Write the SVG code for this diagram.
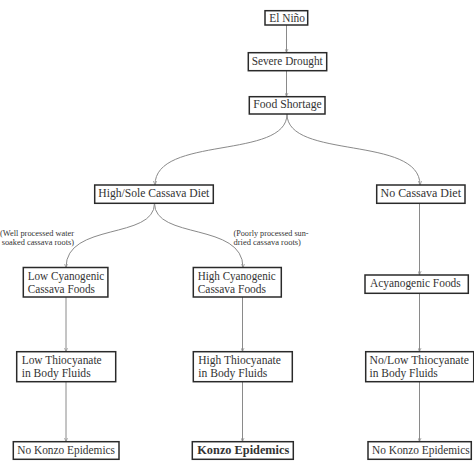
<svg xmlns="http://www.w3.org/2000/svg" width="474" height="474" viewBox="0 0 474 474">
<defs>
<style>
.box{fill:#fff;stroke:#2a2a2a;stroke-width:1.5}
.t{font-family:"Liberation Serif","DejaVu Serif",serif;font-size:11.8px;fill:#333}
.c{text-anchor:middle}
.b{font-weight:bold}
.lbl{font-family:"Liberation Serif","DejaVu Serif",serif;font-size:7.8px;fill:#333}
.ln{fill:none;stroke:#8a8a8a;stroke-width:1}
</style>
<marker id="ah" viewBox="0 0 6 6" refX="6" refY="3" markerWidth="4" markerHeight="4" orient="auto">
<path d="M0,0.5 L6,3 L0,5.5" fill="none" stroke="#8a8a8a" stroke-width="1"/>
</marker>
</defs>
<rect width="474" height="474" fill="#fff"/>
<g id="connectors">
<path class="ln" marker-end="url(#ah)" d="M286.5,25 L286.5,52.5"/>
<path class="ln" marker-end="url(#ah)" d="M286.5,70.7 L286.5,96.5"/>
<path class="ln" marker-end="url(#ah)" d="M287,114 C287,160 155,135 155,185"/>
<path class="ln" marker-end="url(#ah)" d="M287,114 C287,160 420,135 420,185"/>
<path class="ln" marker-end="url(#ah)" d="M154.5,203.3 C154.5,240 66,222 66,267.5"/>
<path class="ln" marker-end="url(#ah)" d="M154.5,203.3 C154.5,240 243,222 243,267.5"/>
<path class="ln" marker-end="url(#ah)" d="M66,297 L66,351.7"/>
<path class="ln" marker-end="url(#ah)" d="M66,381.7 L66,441.7"/>
<path class="ln" marker-end="url(#ah)" d="M242.5,297 L242.5,351.7"/>
<path class="ln" marker-end="url(#ah)" d="M242.5,381.7 L242.5,441.7"/>
<path class="ln" marker-end="url(#ah)" d="M419.5,203.3 L419.5,275"/>
<path class="ln" marker-end="url(#ah)" d="M419.5,293.3 L419.5,351.7"/>
<path class="ln" marker-end="url(#ah)" d="M419.5,381.7 L419.5,441.7"/>
<text class="lbl" text-anchor="end" x="74" y="235.8" textLength="74" lengthAdjust="spacingAndGlyphs">(Well processed water</text>
<text class="lbl" text-anchor="end" x="74" y="244.8" textLength="72.3" lengthAdjust="spacingAndGlyphs">soaked cassava roots)</text>
<text class="lbl" x="233.5" y="235.8" textLength="75" lengthAdjust="spacingAndGlyphs">(Poorly processed sun-</text>
<text class="lbl" x="233.5" y="244.8" textLength="67.4" lengthAdjust="spacingAndGlyphs">dried cassava roots)</text>
</g>
<g id="el-nino"><rect class="box" x="265" y="10.7" width="42.7" height="14.3"/><text class="t" x="269.3" y="21.8" textLength="35.7" lengthAdjust="spacingAndGlyphs">El Niño</text></g>
<g id="severe-drought"><rect class="box" x="248.3" y="52.7" width="78.4" height="18"/><text class="t" x="251.7" y="64.6" textLength="71" lengthAdjust="spacingAndGlyphs">Severe Drought</text></g>
<g id="food-shortage"><rect class="box" x="249.3" y="96.7" width="75.7" height="17.3"/><text class="t" x="253.3" y="108.4" textLength="68.4" lengthAdjust="spacingAndGlyphs">Food Shortage</text></g>
<g id="high-sole"><rect class="box" x="94.7" y="185" width="118.6" height="18.3"/><text class="t" x="98.3" y="197.2" textLength="111" lengthAdjust="spacingAndGlyphs">High/Sole Cassava Diet</text></g>
<g id="no-cassava"><rect class="box" x="376.7" y="185" width="88.3" height="18.3"/><text class="t" x="380.5" y="197.2" textLength="80.5" lengthAdjust="spacingAndGlyphs">No Cassava Diet</text></g>
<g id="low-cyano"><rect class="box" x="23.3" y="267.5" width="84.6" height="29.5"/><text class="t" x="27.7" y="280.3" textLength="76.6" lengthAdjust="spacingAndGlyphs">Low Cyanogenic</text><text class="t" x="27.7" y="293" textLength="67.3" lengthAdjust="spacingAndGlyphs">Cassava Foods</text></g>
<g id="high-cyano"><rect class="box" x="193.3" y="267.5" width="88" height="29.5"/><text class="t" x="197.7" y="280.3" textLength="78" lengthAdjust="spacingAndGlyphs">High Cyanogenic</text><text class="t" x="197.7" y="293" textLength="68.3" lengthAdjust="spacingAndGlyphs">Cassava Foods</text></g>
<g id="acyano"><rect class="box" x="365" y="275" width="103.3" height="18.3"/><text class="t" x="370" y="287.2" textLength="90.7" lengthAdjust="spacingAndGlyphs">Acyanogenic Foods</text></g>
<g id="low-thio"><rect class="box" x="16.7" y="351.7" width="99" height="30"/><text class="t" x="21.7" y="364" textLength="80" lengthAdjust="spacingAndGlyphs">Low Thiocyanate</text><text class="t" x="21.7" y="376.5" textLength="69" lengthAdjust="spacingAndGlyphs">in Body Fluids</text></g>
<g id="high-thio"><rect class="box" x="193.3" y="351.7" width="99" height="30"/><text class="t" x="198.3" y="364" textLength="82.5" lengthAdjust="spacingAndGlyphs">High Thiocyanate</text><text class="t" x="198.3" y="376.5" textLength="69" lengthAdjust="spacingAndGlyphs">in Body Fluids</text></g>
<g id="nolow-thio"><rect class="box" x="365.7" y="351.7" width="108" height="30"/><text class="t" x="369.5" y="364" textLength="99.5" lengthAdjust="spacingAndGlyphs">No/Low Thiocyanate</text><text class="t" x="369.5" y="376.5" textLength="68.3" lengthAdjust="spacingAndGlyphs">in Body Fluids</text></g>
<g id="no-konzo-1"><rect class="box" x="13.3" y="441.7" width="105.7" height="17.6"/><text class="t" x="17.3" y="453.9" textLength="97.7" lengthAdjust="spacingAndGlyphs">No Konzo Epidemics</text></g>
<g id="konzo"><rect class="box" x="192.3" y="441.7" width="101" height="17.6"/><text class="t b" x="197.3" y="453.9" textLength="92" lengthAdjust="spacingAndGlyphs">Konzo Epidemics</text></g>
<g id="no-konzo-3"><rect class="box" x="368" y="441.7" width="103.3" height="17.6"/><text class="t" x="372" y="453.9" textLength="97.7" lengthAdjust="spacingAndGlyphs">No Konzo Epidemics</text></g>
</svg>
